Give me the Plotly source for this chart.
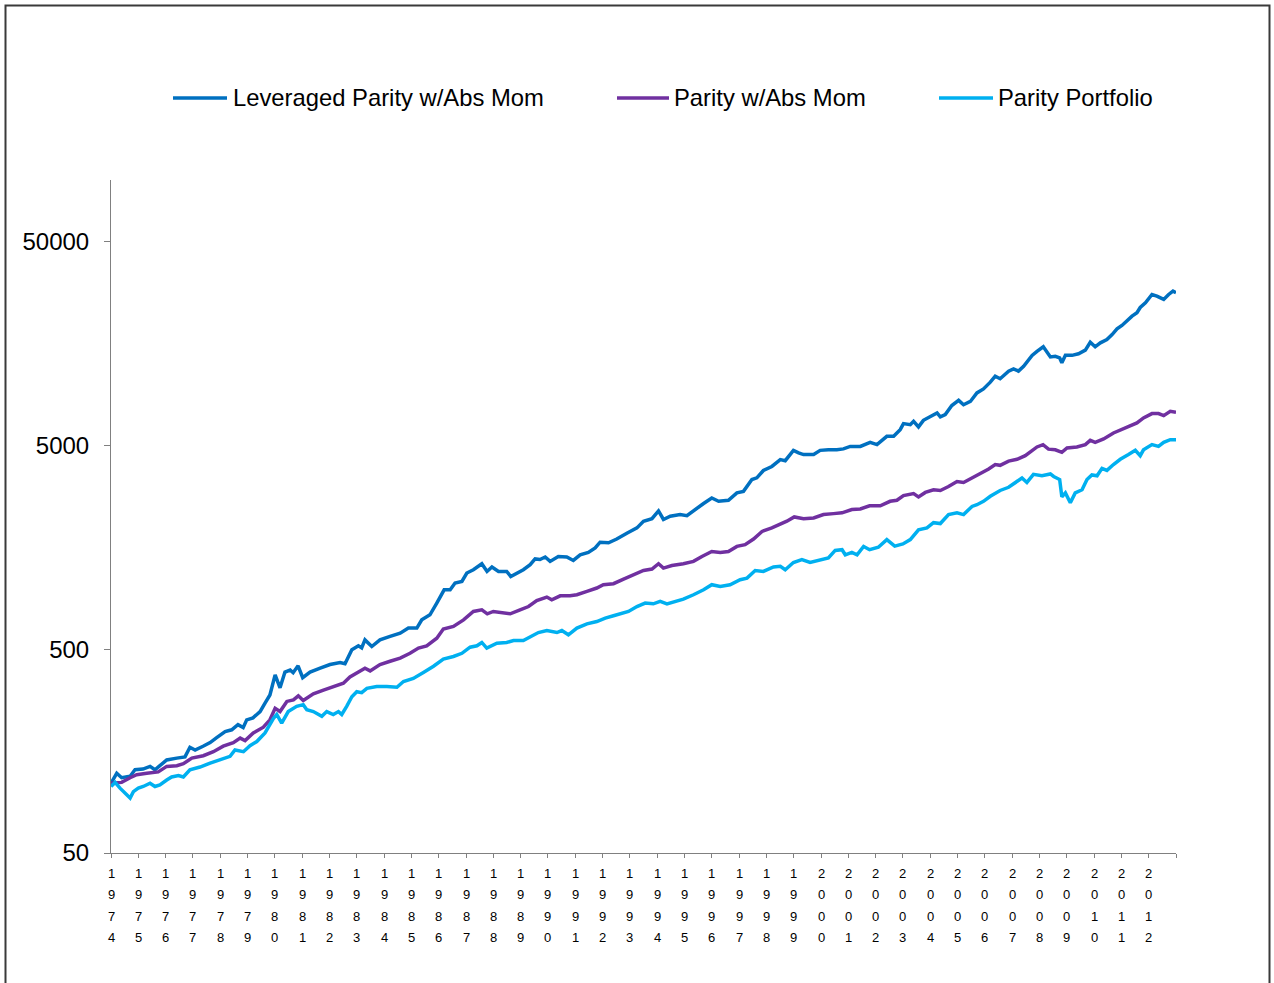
import plotly.graph_objects as go

# ---------------- data ----------------
years = list(range(1974, 2013))           # category labels on the x axis

lev_t = [1974.00, 1974.21, 1974.39, 1974.70, 1974.88, 1975.17, 1975.43, 1975.61, 1975.79, 1976.04,
         1976.41, 1976.71, 1976.89, 1977.08, 1977.37, 1977.63, 1977.87, 1978.18, 1978.42, 1978.65,
         1978.84, 1978.97, 1979.20, 1979.46, 1979.64, 1979.82, 1980.01, 1980.19, 1980.37, 1980.56,
         1980.67, 1980.85, 1981.02, 1981.29, 1981.66, 1982.02, 1982.39, 1982.57, 1982.82, 1983.06,
         1983.18, 1983.30, 1983.55, 1983.85, 1984.22, 1984.59, 1984.89, 1985.20, 1985.38, 1985.68,
         1985.93, 1986.20, 1986.42, 1986.60, 1986.85, 1987.03, 1987.27, 1987.58, 1987.77, 1987.95,
         1988.19, 1988.49, 1988.64, 1988.86, 1989.10, 1989.35, 1989.53, 1989.71, 1989.90, 1990.08,
         1990.38, 1990.69, 1990.93, 1991.18, 1991.48, 1991.73, 1991.91, 1992.22, 1992.52, 1992.89,
         1993.26, 1993.50, 1993.81, 1994.05, 1994.23, 1994.48, 1994.84, 1995.09, 1995.45, 1995.70,
         1996.00, 1996.25, 1996.61, 1996.92, 1997.16, 1997.47, 1997.65, 1997.89, 1998.20, 1998.51,
         1998.69, 1998.99, 1999.18, 1999.36, 1999.73, 1999.97, 2000.27, 2000.58, 2000.82, 2001.07,
         2001.44, 2001.80, 2002.05, 2002.41, 2002.66, 2002.90, 2003.02, 2003.27, 2003.39, 2003.57,
         2003.75, 2004.00, 2004.25, 2004.37, 2004.55, 2004.79, 2005.04, 2005.22, 2005.47, 2005.71,
         2005.95, 2006.20, 2006.38, 2006.56, 2006.87, 2007.05, 2007.23, 2007.42, 2007.73, 2007.91,
         2008.14, 2008.40, 2008.58, 2008.74, 2008.82, 2008.95, 2009.19, 2009.43, 2009.68, 2009.86,
         2010.04, 2010.23, 2010.47, 2010.66, 2010.84, 2011.02, 2011.21, 2011.39, 2011.57, 2011.69,
         2011.88, 2012.12, 2012.30, 2012.55, 2012.73, 2012.89, 2013.00]
lev_v = [110, 123, 117, 119, 128, 129, 133, 128, 134, 143,
         146, 148, 165, 160, 167, 174, 184, 197, 201, 213,
         206, 225, 230, 247, 272, 298, 374, 323, 386, 395,
         383, 414, 362, 386, 403, 420, 430, 424, 496, 519,
         507, 555, 515, 555, 577, 599, 634, 634, 696, 737,
         841, 977, 977, 1054, 1074, 1181, 1226, 1312, 1202, 1264,
         1202, 1202, 1135, 1181, 1226, 1298, 1385, 1375, 1415, 1347,
         1424, 1415, 1361, 1451, 1490, 1567, 1673, 1662, 1734, 1852,
         1966, 2120, 2180, 2380, 2162, 2245, 2285, 2258, 2460, 2590,
         2755, 2655, 2685, 2920, 2970, 3395, 3460, 3760, 3935, 4250,
         4200, 4720, 4585, 4500, 4500, 4720, 4750, 4750, 4800, 4935,
         4935, 5165, 5035, 5530, 5530, 5965, 6385, 6310, 6550, 6150,
         6625, 6930, 7200, 6885, 7065, 7825, 8300, 7900, 8200, 9030,
         9450, 10200, 10900, 10600, 11550, 11850, 11550, 12200, 13800, 14450,
         15200, 13550, 13650, 13400, 12700, 13800, 13800, 14050, 14650, 16000,
         15200, 15900, 16500, 17450, 18600, 19350, 20550, 21500, 22350, 23700,
         25000, 27450, 26950, 25950, 27450, 28500, 28000]

abs_t = [1974.00, 1974.39, 1974.70, 1974.94, 1975.31, 1975.55, 1975.73, 1976.04, 1976.41, 1976.65,
         1976.96, 1977.38, 1977.75, 1978.11, 1978.48, 1978.73, 1978.91, 1979.21, 1979.58, 1979.82,
         1980.01, 1980.19, 1980.44, 1980.68, 1980.86, 1981.04, 1981.41, 1981.78, 1982.14, 1982.51,
         1982.75, 1983.06, 1983.30, 1983.49, 1983.85, 1984.22, 1984.59, 1984.95, 1985.26, 1985.56,
         1985.93, 1986.17, 1986.54, 1986.91, 1987.27, 1987.58, 1987.78, 1988.00, 1988.37, 1988.62,
         1988.98, 1989.29, 1989.59, 1989.96, 1990.14, 1990.45, 1990.81, 1991.06, 1991.43, 1991.79,
         1992.03, 1992.40, 1992.77, 1993.13, 1993.50, 1993.81, 1994.05, 1994.23, 1994.54, 1994.96,
         1995.33, 1995.64, 1996.00, 1996.31, 1996.61, 1996.92, 1997.22, 1997.53, 1997.84, 1998.20,
         1998.57, 1998.75, 1999.02, 1999.36, 1999.73, 2000.09, 2000.46, 2000.77, 2001.13, 2001.44,
         2001.78, 2002.17, 2002.53, 2002.78, 2003.02, 2003.39, 2003.57, 2003.82, 2004.12, 2004.37,
         2004.67, 2004.98, 2005.22, 2005.53, 2005.83, 2006.14, 2006.38, 2006.56, 2006.87, 2007.18,
         2007.48, 2007.73, 2007.91, 2008.13, 2008.33, 2008.58, 2008.82, 2009.01, 2009.37, 2009.68,
         2009.86, 2010.04, 2010.35, 2010.71, 2011.02, 2011.33, 2011.57, 2011.81, 2012.12, 2012.36,
         2012.55, 2012.79, 2013.00]
abs_v = [110, 111, 117, 121, 123, 124, 125, 133, 134, 137,
         146, 150, 157, 167, 174, 183, 178, 194, 207, 225,
         256, 247, 277, 282, 295, 280, 302, 315, 328, 340,
         365, 386, 403, 391, 420, 436, 452, 477, 506, 519,
         566, 627, 646, 696, 765, 779, 745, 765, 757, 745,
         779, 809, 865, 900, 873, 913, 913, 924, 959, 997,
         1035, 1047, 1103, 1160, 1215, 1235, 1312, 1249, 1285, 1312,
         1347, 1424, 1507, 1490, 1507, 1595, 1626, 1734, 1889, 1966,
         2060, 2120, 2225, 2180, 2200, 2285, 2310, 2330, 2420, 2435,
         2525, 2525, 2655, 2685, 2830, 2895, 2790, 2935, 3025, 3000,
         3135, 3320, 3285, 3455, 3635, 3825, 4020, 3985, 4180, 4265,
         4445, 4720, 4905, 5035, 4785, 4750, 4615, 4850, 4905, 5035,
         5285, 5165, 5370, 5745, 5965, 6240, 6435, 6810, 7150, 7150,
         6985, 7335, 7250]

par_t = [1974.00, 1974.15, 1974.33, 1974.51, 1974.70, 1974.82, 1975.00, 1975.18, 1975.43, 1975.61,
         1975.79, 1976.04, 1976.22, 1976.47, 1976.65, 1976.89, 1977.26, 1977.63, 1977.99, 1978.36,
         1978.54, 1978.85, 1979.09, 1979.34, 1979.64, 1979.76, 1979.95, 1980.07, 1980.25, 1980.49,
         1980.80, 1981.04, 1981.17, 1981.41, 1981.72, 1981.90, 1982.14, 1982.33, 1982.45, 1982.63,
         1982.82, 1983.00, 1983.18, 1983.37, 1983.73, 1984.10, 1984.47, 1984.71, 1985.07, 1985.44,
         1985.81, 1986.17, 1986.54, 1986.85, 1987.15, 1987.40, 1987.58, 1987.76, 1988.13, 1988.49,
         1988.74, 1989.10, 1989.35, 1989.65, 1989.96, 1990.33, 1990.51, 1990.75, 1991.06, 1991.43,
         1991.79, 1992.10, 1992.40, 1992.64, 1992.95, 1993.26, 1993.56, 1993.86, 1994.11, 1994.36,
         1994.66, 1994.96, 1995.33, 1995.70, 1996.00, 1996.31, 1996.67, 1997.04, 1997.29, 1997.59,
         1997.89, 1998.26, 1998.51, 1998.69, 1998.99, 1999.30, 1999.60, 1999.97, 2000.27, 2000.52,
         2000.77, 2000.89, 2001.13, 2001.32, 2001.56, 2001.78, 2002.10, 2002.41, 2002.70, 2003.00,
         2003.27, 2003.57, 2003.88, 2004.12, 2004.37, 2004.67, 2004.98, 2005.22, 2005.53, 2005.71,
         2005.95, 2006.20, 2006.56, 2006.87, 2007.11, 2007.36, 2007.54, 2007.78, 2008.09, 2008.40,
         2008.52, 2008.74, 2008.82, 2008.95, 2009.13, 2009.31, 2009.56, 2009.74, 2009.92, 2010.11,
         2010.29, 2010.47, 2010.71, 2010.96, 2011.26, 2011.51, 2011.69, 2011.81, 2012.12, 2012.36,
         2012.55, 2012.79, 2013.00]
par_v = [106, 111, 104, 98, 93, 100, 104, 106, 110, 106,
         108, 114, 118, 120, 118, 128, 132, 138, 143, 149,
         160, 157, 168, 176, 194, 207, 229, 239, 217, 247,
         262, 267, 252, 247, 234, 247, 239, 247, 239, 262,
         292, 309, 306, 321, 328, 328, 325, 347, 359, 384,
         412, 447, 460, 477, 511, 519, 539, 506, 535, 539,
         551, 551, 577, 603, 617, 603, 617, 588, 634, 665,
         683, 710, 729, 745, 765, 809, 841, 834, 857, 834,
         857, 880, 924, 977, 1035, 1015, 1035, 1095, 1115, 1215,
         1202, 1264, 1275, 1226, 1330, 1375, 1330, 1375, 1400, 1525,
         1537, 1451, 1490, 1451, 1595, 1537, 1580, 1722, 1600, 1640,
         1722, 1925, 1966, 2085, 2065, 2285, 2330, 2285, 2505, 2555,
         2655, 2810, 3000, 3110, 3285, 3455, 3285, 3600, 3540, 3615,
         3515, 3395, 2790, 2920, 2610, 2920, 3025, 3395, 3575, 3540,
         3850, 3765, 4020, 4265, 4500, 4720, 4445, 4750, 5035, 4935,
         5165, 5325, 5325]

series_names = ["Leveraged Parity w/Abs Mom", "Parity w/Abs Mom", "Parity Portfolio"]
series_colors = ["#0070C0", "#7030A0", "#00B0F0"]
y_ticks = [50, 500, 5000, 50000]

FONT = "Arial, Liberation Sans, sans-serif"

fig = go.Figure()
for name, t, v, c in zip(series_names, [lev_t, abs_t, par_t], [lev_v, abs_v, par_v], series_colors):
    fig.add_trace(go.Scatter(x=t, y=v, mode="lines", name=name,
                             line=dict(color=c, width=3.5), showlegend=False))

# plot area in pixels: left 111, right 1176, top 180, bottom 853
W, H = 1274, 983
L, R, T, B = 111, 1176, 180, 853
pw, ph = R - L, B - T


def px(xp):
    return (xp - L) / pw


def py(yp):
    return (B - yp) / ph


shapes = []
annotations = []

# outer chart border
shapes.append(dict(type="rect", xref="paper", yref="paper",
                   x0=px(5.5), x1=px(1269.5), y0=py(1000), y1=py(5.5),
                   line=dict(color="#3a3a3a", width=2), fillcolor="rgba(0,0,0,0)"))

# manual legend (line samples + labels)
leg_y = py(98)
leg_items = [(173, 227, 231), (617, 669, 672), (939, 993, 996)]
for (x0, x1, xt), name, c in zip(leg_items, series_names, series_colors):
    shapes.append(dict(type="line", xref="paper", yref="paper",
                       x0=px(x0), x1=px(x1), y0=leg_y, y1=leg_y,
                       line=dict(color=c, width=3.5)))
    annotations.append(dict(xref="paper", yref="paper", x=px(xt), y=leg_y,
                            text=name, showarrow=False, xanchor="left", yanchor="middle",
                            font=dict(family=FONT, size=23.8, color="black")))

# vertical (stacked-digit) year labels under the x axis
row_y = [873.3, 894.3, 916.0, 937.7]
for yr in years:
    for i, ch in enumerate(str(yr)):
        annotations.append(dict(xref="x", yref="paper", x=yr, y=py(row_y[i]),
                                text=ch, showarrow=False, xanchor="center", yanchor="middle",
                                font=dict(family=FONT, size=13, color="black")))

fig.update_layout(
    width=W, height=H,
    margin=dict(l=L, r=W - R, t=T, b=H - B, pad=0),
    paper_bgcolor="white", plot_bgcolor="white",
    font=dict(family=FONT, color="black"),
    shapes=shapes, annotations=annotations,
    showlegend=False,
)
fig.update_xaxes(range=[1974, 2013], tickvals=list(range(1974, 2014)), showticklabels=False,
                 ticks="outside", ticklen=4, tickcolor="#808080", tickwidth=1,
                 showline=True, linecolor="#808080", linewidth=1,
                 showgrid=False, zeroline=False)
fig.update_yaxes(type="log", range=[1.69897, 5.0], tickvals=y_ticks,
                 ticktext=[str(v) for v in y_ticks],
                 ticks="outside", ticklen=6, tickcolor="#808080", tickwidth=1,
                 showline=True, linecolor="#808080", linewidth=1,
                 tickfont=dict(family=FONT, size=24, color="black"),
                 ticklabelstandoff=10,
                 showgrid=False, zeroline=False)

fig.write_html("out.html", config={"displayModeBar": False},
               post_script="document.body.style.margin='0';document.body.style.overflow='hidden';")
